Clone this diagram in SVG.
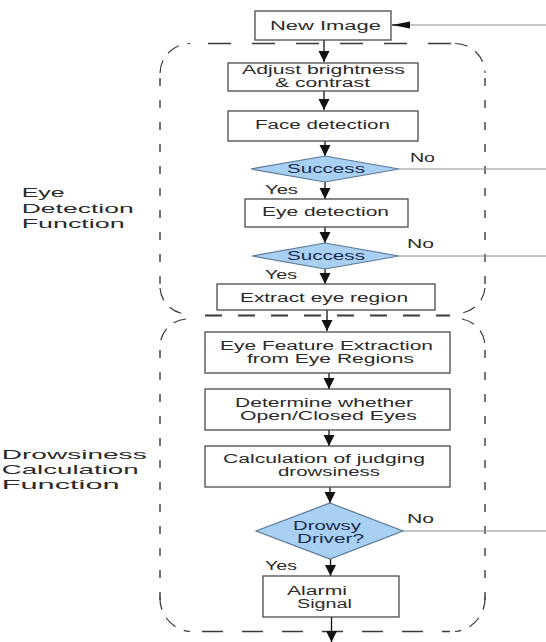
<svg xmlns="http://www.w3.org/2000/svg" width="546" height="642" viewBox="0 0 546 642">
<defs>
<style>
.box{fill:#ffffff;stroke:#4a4a4a;stroke-width:1.3}
.dia{fill:#a8d0f2;stroke:#5a7896;stroke-width:1.2}
.t{font-family:"Liberation Sans",Arial,sans-serif;font-size:12.5px;fill:#2a2a2a}
.dt{font-family:"Liberation Sans",Arial,sans-serif;font-size:12.5px;fill:#1d2c4c}
.lbl{font-family:"Liberation Sans",Arial,sans-serif;font-size:13px;fill:#2a2a2a}
.flow{stroke:#111;stroke-width:1.3;fill:none}
.side{stroke:#8a8a8a;stroke-width:1;fill:none}
.dh{stroke:#3a3a3a;stroke-width:1.4;fill:none;stroke-dasharray:23 21}
.dv{stroke:#3a3a3a;stroke-width:1.4;fill:none;stroke-dasharray:8 14}
.dc{stroke:#3a3a3a;stroke-width:1.2;fill:none;stroke-dasharray:13 9}
</style>
<marker id="av" markerUnits="userSpaceOnUse" markerWidth="12" markerHeight="12" refX="11" refY="5.5" orient="auto">
<path d="M0,0 L11,5.5 L0,11 z" fill="#111"/>
</marker>
<marker id="ah" markerUnits="userSpaceOnUse" markerWidth="19" markerHeight="8" refX="18" refY="3.5" orient="auto">
<path d="M0,0 L18,3.5 L0,7 z" fill="#111"/>
</marker>
</defs>

<g id="containers">
<g id="eye-detection-group">
<path class="dh" d="M208,43.5 H455"/>
<path class="dc" d="M160,73 A30,30 0 0 1 190,43.5"/>
<path class="dc" d="M455,43.5 A30,30 0 0 1 485,73"/>
<path class="dv" d="M160,78 V290"/>
<path class="dv" d="M485,78 V290"/>
<path class="dc" d="M160,288 A28,28 0 0 0 186,314"/>
<path class="dc" d="M485,288 A28,28 0 0 1 462,313"/>
</g>
<g id="drowsiness-group">
<path class="dh" d="M205,315.5 H450" style="stroke-width:2;stroke-dasharray:17 16"/>
<path class="dc" d="M186,319 A28,28 0 0 0 160,345"/>
<path class="dc" d="M462,319 A28,28 0 0 1 485,345"/>
<path class="dv" d="M160,350 V600"/>
<path class="dv" d="M485,350 V600"/>
<path class="dc" d="M160,597 A33,33 0 0 0 190,631.5"/>
<path class="dc" d="M485,597 A33,33 0 0 1 455,631.5"/>
<path class="dh" d="M202,631.5 H450" style="stroke-dasharray:21 19"/>
</g>
</g>

<g id="connectors">
<path class="side" d="M546,25 H410"/>
<path class="flow" d="M410,25 H392" marker-end="url(#ah)"/>
<path class="flow" d="M324,40 V62" marker-end="url(#av)"/>
<path class="flow" d="M324,91 V110" marker-end="url(#av)"/>
<path class="flow" d="M325,141 V156" marker-end="url(#av)"/>
<path class="side" d="M399,169 H546"/>
<path class="flow" d="M325,182 V199" marker-end="url(#av)"/>
<path class="flow" d="M325,227 V243" marker-end="url(#av)"/>
<path class="side" d="M399,256 H546"/>
<path class="flow" d="M325,269 V284" marker-end="url(#av)"/>
<path class="flow" d="M327,310 V331" marker-end="url(#av)"/>
<path class="flow" d="M329,373 V389" marker-end="url(#av)"/>
<path class="flow" d="M329,430 V446" marker-end="url(#av)"/>
<path class="flow" d="M330,487 V503" marker-end="url(#av)"/>
<path class="side" d="M403,531 H546"/>
<path class="flow" d="M330.5,559 V576" marker-end="url(#av)"/>
<path class="flow" d="M331.5,617 V642" marker-end="url(#av)"/>
</g>

<g id="new-image">
<rect class="box" x="255" y="11" width="136" height="29"/>
<text class="t" x="270" y="29.5" textLength="111" lengthAdjust="spacingAndGlyphs">New Image</text>
</g>
<g id="adjust">
<rect class="box" x="228" y="63" width="190" height="28"/>
<text class="t" x="242" y="74" textLength="163" lengthAdjust="spacingAndGlyphs">Adjust brightness</text>
<text class="t" x="275" y="86.5" textLength="95" lengthAdjust="spacingAndGlyphs">&amp; contrast</text>
</g>
<g id="face-detection">
<rect class="box" x="228" y="111" width="190" height="30"/>
<text class="t" x="255" y="128.5" textLength="135" lengthAdjust="spacingAndGlyphs">Face detection</text>
</g>
<g id="success1">
<polygon class="dia" points="325,156 399,169 325,182 251,169"/>
<text class="dt" x="287" y="173" textLength="78" lengthAdjust="spacingAndGlyphs">Success</text>
<text class="t" x="410" y="161.7" textLength="25" lengthAdjust="spacingAndGlyphs">No</text>
<text class="t" x="265" y="194" textLength="33" lengthAdjust="spacingAndGlyphs">Yes</text>
</g>
<g id="eye-detection">
<rect class="box" x="245" y="199" width="163" height="28"/>
<text class="t" x="262" y="216" textLength="127" lengthAdjust="spacingAndGlyphs">Eye detection</text>
</g>
<g id="success2">
<polygon class="dia" points="325,243 399,256 325,269 252,256"/>
<text class="dt" x="287" y="260" textLength="78" lengthAdjust="spacingAndGlyphs">Success</text>
<text class="t" x="407" y="248.3" textLength="27" lengthAdjust="spacingAndGlyphs">No</text>
<text class="t" x="265" y="279.3" textLength="32" lengthAdjust="spacingAndGlyphs">Yes</text>
</g>
<g id="extract">
<rect class="box" x="217" y="284" width="218" height="26"/>
<text class="t" x="240" y="301.7" textLength="168" lengthAdjust="spacingAndGlyphs">Extract eye region</text>
</g>
<g id="feature-extraction">
<rect class="box" x="205" y="332" width="245" height="41"/>
<text class="t" x="220" y="350" textLength="213" lengthAdjust="spacingAndGlyphs">Eye Feature Extraction</text>
<text class="t" x="247" y="362.7" textLength="167" lengthAdjust="spacingAndGlyphs">from Eye Regions</text>
</g>
<g id="determine">
<rect class="box" x="205" y="389" width="245" height="41"/>
<text class="t" x="235" y="407.3" textLength="178" lengthAdjust="spacingAndGlyphs">Determine whether</text>
<text class="t" x="240" y="420" textLength="177" lengthAdjust="spacingAndGlyphs">Open/Closed Eyes</text>
</g>
<g id="calculation">
<rect class="box" x="205" y="446" width="245" height="41"/>
<text class="t" x="223" y="463.3" textLength="202" lengthAdjust="spacingAndGlyphs">Calculation of judging</text>
<text class="t" x="278" y="476" textLength="102" lengthAdjust="spacingAndGlyphs">drowsiness</text>
</g>
<g id="drowsy-driver">
<polygon class="dia" points="330,503 403,531 330,559 256,531"/>
<text class="dt" x="293" y="530" textLength="68" lengthAdjust="spacingAndGlyphs">Drowsy</text>
<text class="dt" x="297" y="543.3" textLength="67" lengthAdjust="spacingAndGlyphs">Driver?</text>
<text class="t" x="407" y="523.3" textLength="27" lengthAdjust="spacingAndGlyphs">No</text>
<text class="t" x="265" y="570" textLength="32" lengthAdjust="spacingAndGlyphs">Yes</text>
</g>
<g id="alarm">
<rect class="box" x="263" y="576" width="136" height="41"/>
<text class="t" x="287" y="595" textLength="60" lengthAdjust="spacingAndGlyphs">Alarmi</text>
<text class="t" x="297" y="608.3" textLength="55" lengthAdjust="spacingAndGlyphs">Signal</text>
</g>

<g id="label-eye-detection">
<text class="lbl" x="21.7" y="196.7" textLength="43" lengthAdjust="spacingAndGlyphs">Eye</text>
<text class="lbl" x="21.7" y="212.5" textLength="112" lengthAdjust="spacingAndGlyphs">Detection</text>
<text class="lbl" x="21.7" y="228.3" textLength="103" lengthAdjust="spacingAndGlyphs">Function</text>
</g>
<g id="label-drowsiness">
<text class="lbl" x="1.7" y="459" textLength="145" lengthAdjust="spacingAndGlyphs">Drowsiness</text>
<text class="lbl" x="1.7" y="474" textLength="137" lengthAdjust="spacingAndGlyphs">Calculation</text>
<text class="lbl" x="1.7" y="489" textLength="118" lengthAdjust="spacingAndGlyphs">Function</text>
</g>
</svg>
